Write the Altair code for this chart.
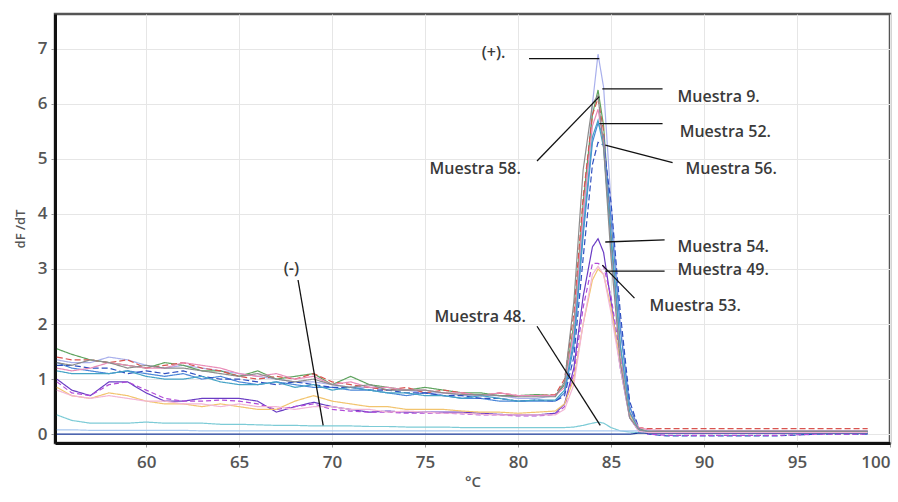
import altair as alt
import pandas as pd

# Temperature grid (°C)
temps = [55.2, 56, 57, 58, 59, 60, 61, 62, 63, 64, 65, 66, 67, 68, 69, 70, 71, 72, 73, 74,
         75, 76, 77, 78, 79, 80, 81, 82, 82.5, 83, 83.5, 84, 84.3, 84.6, 85, 85.5, 86, 86.5,
         87, 88, 90, 92, 94, 96, 98.8]

pos_ctrl = [1.35,1.3,1.3,1.4,1.35,1.25,1.2,1.25,1.2,1.15,1.1,1.05,1.0,0.95,0.95,0.9,0.85,0.85,0.8,0.8,0.75,0.75,0.7,0.7,0.7,0.65,0.65,0.7,0.9,1.8,3.8,6.0,6.9,6.3,4.2,2.0,0.5,0.1,0.05,0.04,0.03,0.03,0.03,0.03,0.03]
m9 = [1.55,1.45,1.35,1.3,1.25,1.2,1.3,1.25,1.15,1.15,1.05,1.15,1.0,1.05,1.1,0.9,1.05,0.9,0.85,0.8,0.85,0.8,0.75,0.75,0.7,0.7,0.72,0.7,0.9,2.0,4.2,5.8,6.25,5.6,3.6,1.6,0.4,0.1,0.05,0.04,0.04,0.04,0.04,0.04,0.04]
m58 = [1.4,1.35,1.35,1.3,1.35,1.2,1.25,1.3,1.2,1.15,1.05,1.0,1.05,1.0,1.1,0.95,0.9,0.85,0.8,0.85,0.75,0.8,0.75,0.7,0.75,0.7,0.7,0.72,1.0,2.2,4.3,5.8,6.1,5.5,3.5,1.5,0.35,0.12,0.1,0.1,0.1,0.1,0.1,0.1,0.1]
m52 = [1.3,1.2,1.15,1.1,1.15,1.1,1.05,1.1,1.0,1.05,0.95,0.9,0.95,0.9,0.85,0.85,0.8,0.8,0.75,0.7,0.75,0.7,0.65,0.65,0.6,0.6,0.6,0.6,0.75,1.6,3.6,5.3,5.65,5.4,3.9,1.9,0.5,0.08,0.03,0.02,0.02,0.02,0.02,0.02,0.02]
m56 = [1.25,1.25,1.2,1.2,1.1,1.15,1.1,1.15,1.05,1.0,1.0,0.95,0.9,0.95,0.9,0.85,0.85,0.8,0.8,0.75,0.75,0.7,0.7,0.65,0.65,0.6,0.62,0.6,0.7,1.4,3.2,4.9,5.3,5.25,4.2,2.2,0.6,0.1,0.0,-0.03,-0.03,-0.03,-0.03,0.0,0.0]
m54 = [1.0,0.8,0.7,0.95,0.95,0.75,0.6,0.6,0.65,0.65,0.65,0.6,0.4,0.5,0.58,0.5,0.45,0.4,0.42,0.4,0.4,0.4,0.4,0.38,0.36,0.35,0.35,0.38,0.55,1.2,2.5,3.4,3.55,3.3,2.4,1.2,0.3,0.05,0.02,0.02,0.02,0.02,0.02,0.05,0.05]
m53 = [0.95,0.75,0.7,0.9,0.95,0.8,0.65,0.6,0.6,0.62,0.6,0.55,0.45,0.5,0.55,0.45,0.42,0.4,0.4,0.38,0.38,0.38,0.37,0.35,0.35,0.33,0.33,0.36,0.5,1.1,2.3,3.1,3.1,3.05,2.5,1.4,0.4,0.08,0.0,-0.02,-0.02,-0.02,-0.02,0.0,0.0]
m49 = [0.85,0.7,0.65,0.75,0.7,0.6,0.55,0.55,0.5,0.55,0.5,0.45,0.45,0.6,0.7,0.6,0.55,0.5,0.5,0.45,0.45,0.45,0.42,0.4,0.4,0.38,0.4,0.42,0.55,1.0,2.0,2.8,3.0,2.9,2.3,1.3,0.35,0.08,0.05,0.05,0.05,0.05,0.05,0.05,0.05]
m48 = [0.35,0.25,0.2,0.2,0.2,0.22,0.2,0.2,0.2,0.18,0.18,0.17,0.16,0.16,0.15,0.15,0.15,0.14,0.14,0.13,0.13,0.13,0.12,0.12,0.12,0.12,0.12,0.12,0.12,0.13,0.16,0.2,0.22,0.2,0.12,0.06,0.04,0.03,0.03,0.03,0.03,0.03,0.03,0.03,0.03]
neg_ctrl = [0.08,0.08,0.07,0.07,0.07,0.07,0.07,0.07,0.06,0.06,0.06,0.06,0.06,0.06,0.06,0.06,0.06,0.06,0.06,0.06,0.06,0.06,0.06,0.06,0.06,0.06,0.06,0.06,0.06,0.06,0.06,0.06,0.06,0.06,0.06,0.06,0.06,0.06,0.06,0.06,0.06,0.06,0.06,0.06,0.06]
blank = [0.0,0.0,0.0,0.0,0.0,0.0,0.0,0.0,0.0,0.0,0.0,0.0,0.0,0.0,0.0,0.0,0.0,0.0,0.0,0.0,0.0,0.0,0.0,0.0,0.0,0.0,0.0,0.0,0.0,0.0,0.0,0.0,0.0,0.0,0.0,0.0,0.0,0.02,0.02,0.02,0.02,0.02,0.02,0.02,0.02]
pink = [1.2,1.15,1.2,1.3,1.25,1.2,1.2,1.3,1.25,1.2,1.1,1.05,1.1,1.0,1.05,0.9,0.95,0.85,0.85,0.8,0.8,0.75,0.75,0.7,0.75,0.7,0.7,0.7,0.85,1.9,4.0,5.6,5.9,5.3,3.4,1.5,0.4,0.12,0.08,0.06,0.06,0.06,0.06,0.06,0.06]
teal = [1.15,1.1,1.1,1.1,1.15,1.05,1.0,1.0,1.05,0.95,0.9,0.9,0.95,0.85,0.9,0.8,0.85,0.8,0.75,0.75,0.7,0.7,0.65,0.7,0.65,0.6,0.62,0.62,0.8,1.7,3.7,5.4,5.7,5.2,3.5,1.6,0.4,0.08,0.05,0.05,0.05,0.05,0.05,0.05,0.05]
lpink = [0.8,0.7,0.65,0.7,0.65,0.6,0.6,0.55,0.55,0.5,0.55,0.5,0.5,0.45,0.5,0.5,0.45,0.45,0.4,0.42,0.4,0.38,0.38,0.36,0.35,0.35,0.35,0.35,0.45,0.9,2.0,2.9,3.05,2.9,2.2,1.2,0.3,0.05,0.03,0.03,0.03,0.03,0.03,0.03,0.03]
gray = [1.3,1.25,1.35,1.3,1.2,1.25,1.2,1.2,1.15,1.1,1.05,1.1,1.0,0.95,1.0,0.9,0.85,0.9,0.8,0.8,0.8,0.75,0.72,0.72,0.7,0.68,0.68,0.68,0.95,2.4,4.8,6.0,6.15,5.2,3.2,1.3,0.3,0.08,0.05,0.05,0.05,0.05,0.05,0.05,0.05]

series_names = ["(+)", "Muestra 9", "Muestra 58", "Muestra 52", "Muestra 56", "Muestra 54",
                "Muestra 53", "Muestra 49", "Muestra 48", "(-)", "Blanco", "S-pink", "S-teal",
                "S-lpink", "S-gray"]
series_values = [pos_ctrl, m9, m58, m52, m56, m54, m53, m49, m48, neg_ctrl, blank, pink, teal,
                 lpink, gray]
series_colors = ["#a9b0ec", "#5ea35e", "#d9534f", "#4a86d8", "#2f4fc0", "#6a3cc4", "#b04ad8",
                 "#f2c46e", "#7ccbd6", "#a8c8f0", "#1d3c9c", "#e98bb8", "#45a3c6", "#f2b6d6",
                 "#8c8c8c"]
series_dash = [[1, 0], [1, 0], [6, 3], [1, 0], [6, 3], [1, 0], [5, 3], [1, 0], [1, 0], [1, 0],
               [1, 0], [1, 0], [1, 0], [1, 0], [1, 0]]
series_width = [1.2, 1.2, 1.4, 1.3, 1.8, 1.8, 1.8, 1.2, 1.2, 1.5, 3.0, 1.2, 1.2, 1.1, 1.2]

rows = []
for name, vals in zip(series_names, series_values):
    for t, v in zip(temps, vals):
        rows.append({"T": t, "v": v, "s": name})
df = pd.DataFrame(rows)

# Annotations
label_text = ["(+).", "Muestra 9.", "Muestra 52.", "Muestra 56.", "Muestra 58.", "Muestra 54.",
              "Muestra 49.", "Muestra 53.", "Muestra 48.", "(-)"]
label_x = [78.05, 88.58, 88.69, 89.01, 75.24, 88.58, 88.58, 87.07, 75.51, 67.4]
label_y = [6.93, 6.13, 5.49, 4.82, 4.82, 3.40, 2.98, 2.33, 2.13, 3.0]
lead_x1 = [80.59, 84.53, 84.37, 84.69, 84.37, 84.69, 84.69, 84.53, 81.02, 68.17]
lead_y1 = [6.82, 6.27, 5.64, 5.25, 6.13, 3.49, 2.96, 3.07, 1.96, 2.8]
lead_x2 = [84.37, 87.77, 87.77, 88.31, 81.02, 87.88, 87.88, 86.26, 84.42, 69.52]
lead_y2 = [6.82, 6.27, 5.64, 4.93, 4.96, 3.53, 2.96, 2.47, 0.16, 0.16]

ann = pd.DataFrame({"label": label_text, "lx": label_x, "ly": label_y,
                    "x1": lead_x1, "y1": lead_y1, "x2": lead_x2, "y2": lead_y2})

xs = alt.Scale(domain=[55.1, 100], nice=False, zero=False)
ys = alt.Scale(domain=[-0.16, 7.63], nice=False, zero=False)

lines = alt.Chart(df).mark_line(interpolate="linear").encode(
    x=alt.X("T:Q", scale=xs,
            axis=alt.Axis(title="°C", values=[60, 65, 70, 75, 80, 85, 90, 95, 100])),
    y=alt.Y("v:Q", scale=ys, axis=alt.Axis(title="dF /dT", values=[0, 1, 2, 3, 4, 5, 6, 7])),
    color=alt.Color("s:N", scale=alt.Scale(domain=series_names, range=series_colors), legend=None),
    strokeDash=alt.StrokeDash("s:N", scale=alt.Scale(domain=series_names, range=series_dash), legend=None),
    strokeWidth=alt.StrokeWidth("s:N", scale=alt.Scale(domain=series_names, range=series_width), legend=None),
    detail="s:N",
)

leaders = alt.Chart(ann).mark_rule(color="#111111", strokeWidth=1.3).encode(
    x=alt.X("x1:Q", scale=xs), y=alt.Y("y1:Q", scale=ys),
    x2="x2:Q", y2="y2:Q",
)

labels = alt.Chart(ann).mark_text(align="left", baseline="middle", font="Open Sans",
                                  fontSize=16, fontWeight=600, color="#3a3a3a").encode(
    x=alt.X("lx:Q", scale=xs), y=alt.Y("ly:Q", scale=ys), text="label:N",
)

chart = alt.layer(lines, leaders, labels).properties(
    width=835, height=429,
    autosize=alt.AutoSizeParams(type="none"),
    padding={"left": 55, "top": 14, "right": 8, "bottom": 59},
).configure_view(
    stroke="#555555", strokeWidth=2.5
).configure_axis(
    grid=True, gridColor="#e6e6e6", gridWidth=1,
    labelFont="Open Sans", labelFontSize=17, labelColor="#555555", labelFontWeight=600,
    titleFont="Open Sans", titleColor="#555555", titleFontWeight=600,
    tickColor="#999999", tickSize=4,
    domainColor="#111111", domainWidth=3,
).configure_axisX(
    titleFontSize=15, titlePadding=4, labelPadding=7,
).configure_axisY(
    titleFontSize=13, titlePadding=10, labelPadding=4,
)

chart.save("out.html", embed_options={"renderer": "svg", "actions": False})
